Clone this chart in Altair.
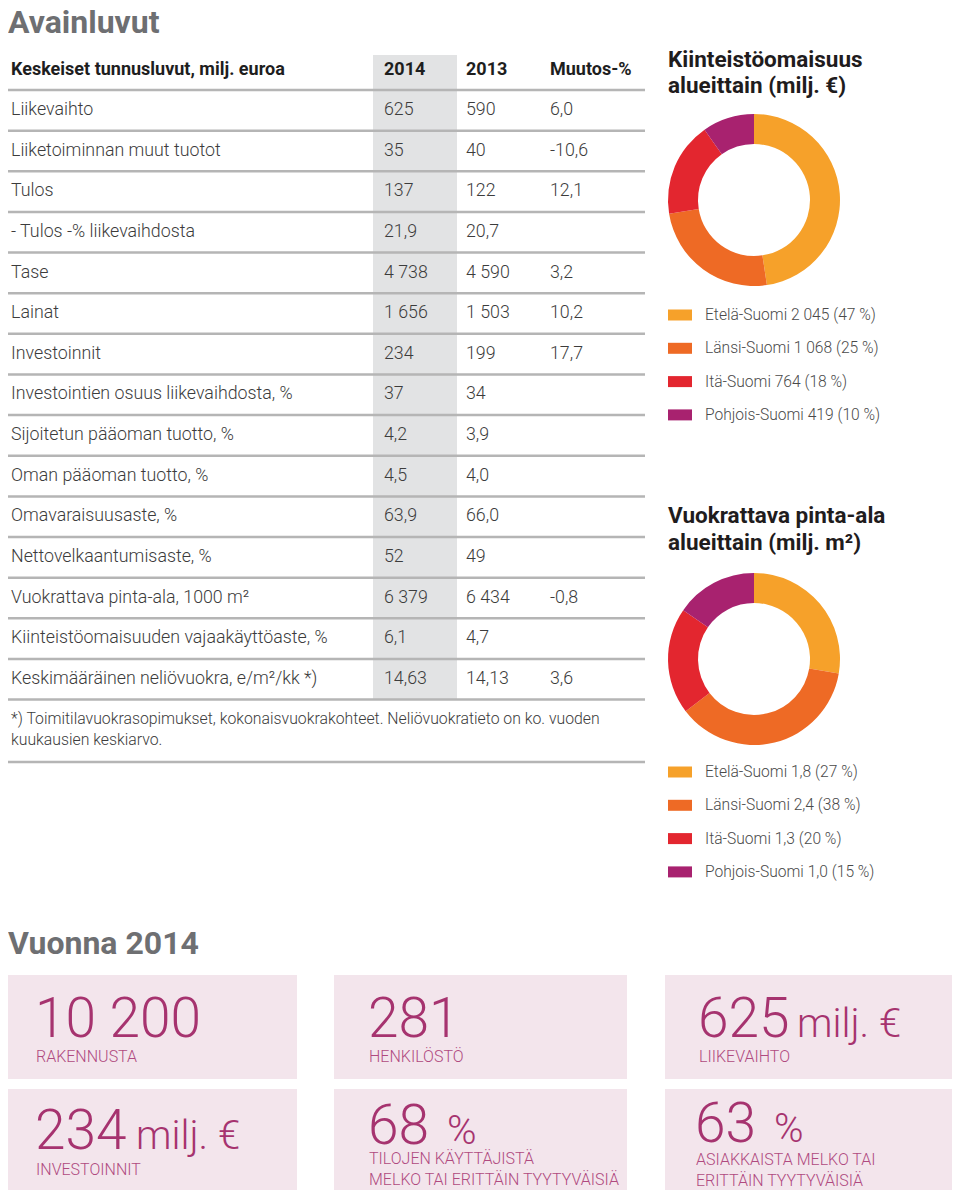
import altair as alt
import pandas as pd

# ---------------- data ----------------
row_labels = [
    "Liikevaihto",
    "Liiketoiminnan muut tuotot",
    "Tulos",
    " - Tulos -% liikevaihdosta",
    "Tase",
    "Lainat",
    "Investoinnit",
    "Investointien osuus liikevaihdosta, %",
    "Sijoitetun pääoman tuotto, %",
    "Oman pääoman tuotto, %",
    "Omavaraisuusaste, %",
    "Nettovelkaantumisaste, %",
    "Vuokrattava pinta-ala, 1000 m²",
    "Kiinteistöomaisuuden vajaakäyttöaste, %",
    "Keskimääräinen neliövuokra, e/m²/kk *)",
]
vals_2014 = ["625", "35", "137", "21,9", "4 738", "1 656", "234", "37", "4,2", "4,5",
             "63,9", "52", "6 379", "6,1", "14,63"]
vals_2013 = ["590", "40", "122", "20,7", "4 590", "1 503", "199", "34", "3,9", "4,0",
             "66,0", "49", "6 434", "4,7", "14,13"]
vals_change = ["6,0", "-10,6", "12,1", "", "3,2", "10,2", "17,7", "", "", "",
               "", "", "-0,8", "", "3,6"]
header_cols = ["Keskeiset tunnusluvut, milj. euroa", "2014", "2013", "Muutos-%"]
footnote = ["*) Toimitilavuokrasopimukset, kokonaisvuokrakohteet. Neliövuokratieto on ko. vuoden",
            "kuukausien keskiarvo."]

regions = ["Etelä-Suomi", "Länsi-Suomi", "Itä-Suomi", "Pohjois-Suomi"]
region_colors = ["#F6A12A", "#EE6A25", "#E3262F", "#A8226F"]
asset_values = [2045, 1068, 764, 419]
asset_pct = [47, 25, 18, 10]
asset_text = ["2 045", "1 068", "764", "419"]
area_values = [1.8, 2.4, 1.3, 1.0]
area_pct = [27, 38, 20, 15]
area_text = ["1,8", "2,4", "1,3", "1,0"]

kpi_numbers = ["10 200", "281", "625", "234", "68", "63"]
kpi_units = ["", "", "milj. €", "milj. €", "%", "%"]
kpi_labels = [["RAKENNUSTA"], ["HENKILÖSTÖ"], ["LIIKEVAIHTO"], ["INVESTOINNIT"],
              ["TILOJEN KÄYTTÄJISTÄ", "MELKO TAI ERITTÄIN TYYTYVÄISIÄ"],
              ["ASIAKKAISTA MELKO TAI", "ERITTÄIN TYYTYVÄISIÄ"]]

# ---------------- layout constants ----------------
FONT = "Roboto"
XS = alt.Scale(domain=[8, 952], nice=False, zero=False)
YS = alt.Scale(domain=[8, 1191], nice=False, zero=False, reverse=True)
CS = alt.Scale(domain=regions, range=region_colors)

ROW0 = 110.0
PITCH = 40.64
COLX = [11, 384, 466, 550]
TXT = "#3c3c3c"
KPI_COLOR = "#A6336F"
KPI_LABEL = "#B04A80"


def text_layer(df, size, weight=400, color=TXT, baseline="middle", align="left"):
    return alt.Chart(df).mark_text(
        align=align, baseline=baseline, fontSize=size, fontWeight=weight,
        color=color, font=FONT
    ).encode(
        x=alt.X("x:Q", scale=XS, axis=None),
        y=alt.Y("y:Q", scale=YS, axis=None),
        text="t:N",
    )


def rect_layer(df, color):
    return alt.Chart(df).mark_rect(color=color).encode(
        x=alt.X("x:Q", scale=XS, axis=None), x2="x2:Q",
        y=alt.Y("y:Q", scale=YS, axis=None), y2="y2:Q",
    )


layers = []

# gray band for 2014 column
band = pd.DataFrame({"x": [373], "x2": [457], "y": [55], "y2": [ROW0 - 20 + PITCH * 15]})
layers.append(rect_layer(band, "#E2E3E4"))

# KPI boxes
box_x = [(4, 297), (334, 627), (665, 958)]
box_y = [(975, 1079), (1089, 1190)]
boxes = []
for r, (y1, y2) in enumerate(box_y):
    for (x1, x2) in box_x:
        boxes.append({"x": x1, "x2": x2, "y": y1, "y2": y2})
layers.append(rect_layer(pd.DataFrame(boxes), "#F3E5EC"))

# table rules
rule_y = [ROW0 - 20 + PITCH * k for k in range(16)] + [762]
rules = pd.DataFrame({"y": rule_y, "x": [5] * len(rule_y), "x2": [645] * len(rule_y)})
layers.append(
    alt.Chart(rules).mark_rule(color="#B5B5B5", strokeWidth=2.5).encode(
        x=alt.X("x:Q", scale=XS, axis=None), x2="x2:Q",
        y=alt.Y("y:Q", scale=YS, axis=None),
    )
)

# titles
titles = pd.DataFrame({"x": [8, 8], "y": [23, 944], "t": ["Avainluvut", "Vuonna 2014"]})
layers.append(text_layer(titles, 32, 700, "#6E6F72"))

# table header
hdr = pd.DataFrame({"x": COLX, "y": [70] * 4, "t": header_cols})
layers.append(text_layer(hdr, 18, 700, "#1e1e1e"))

# table body
body = []
for i, lab in enumerate(row_labels):
    y = ROW0 + PITCH * i
    for x, t in zip(COLX, [lab, vals_2014[i], vals_2013[i], vals_change[i]]):
        if t:
            body.append({"x": x, "y": y, "t": t})
layers.append(text_layer(pd.DataFrame(body), 17.8, 300))

# footnote
fn = pd.DataFrame({"x": [11, 11], "y": [719, 740], "t": footnote})
layers.append(text_layer(fn, 15.8, 300))

# donut titles
dt = pd.DataFrame({
    "x": [668] * 4, "y": [60, 86, 516, 543],
    "t": ["Kiinteistöomaisuus", "alueittain (milj. €)", "Vuokrattava pinta-ala", "alueittain (milj. m²)"],
})
layers.append(text_layer(dt, 22.5, 700, "#1f1c1d"))

# legends
leg_rects, leg_text = [], []
for base_y, vtxt, pcts in [(315, asset_text, asset_pct), (772, area_text, area_pct)]:
    for i, reg in enumerate(regions):
        y = base_y + 33.3 * i
        leg_rects.append({"x": 668, "x2": 692, "y": y - 5.5, "y2": y + 5.5, "r": reg})
        leg_text.append({"x": 705, "y": y, "t": f"{reg} {vtxt[i]} ({pcts[i]} %)"})
layers.append(
    alt.Chart(pd.DataFrame(leg_rects)).mark_rect().encode(
        x=alt.X("x:Q", scale=XS, axis=None), x2="x2:Q",
        y=alt.Y("y:Q", scale=YS, axis=None), y2="y2:Q",
        color=alt.Color("r:N", scale=CS, legend=None),
    )
)
layers.append(text_layer(pd.DataFrame(leg_text), 15.6, 300, "#4a4a4a"))

# KPI texts
num_pos = [(35, 1037), (368, 1037), (698, 1037), (35, 1149), (368, 1144), (695, 1142)]
unit_x = [None, None, 797, 136, 447, 774]
lab_y = [[1062], [1062], [1062], [1175], [1164, 1185], [1165, 1186]]
nums, units, labs = [], [], []
for i, n in enumerate(kpi_numbers):
    x, y = num_pos[i]
    nums.append({"x": x, "y": y, "t": n})
    if kpi_units[i]:
        units.append({"x": unit_x[i], "y": y, "t": kpi_units[i]})
    for j, lt in enumerate(kpi_labels[i]):
        labs.append({"x": x + 1, "y": lab_y[i][j], "t": lt})
layers.append(text_layer(pd.DataFrame(nums), 55, 300, KPI_COLOR, baseline="alphabetic"))
layers.append(text_layer(pd.DataFrame(units), 40, 300, KPI_COLOR, baseline="alphabetic"))
layers.append(text_layer(pd.DataFrame(labs), 16, 300, KPI_LABEL, baseline="alphabetic"))

# donuts
d1 = pd.DataFrame({"r": regions, "v": asset_values, "i": range(4)})
d2 = pd.DataFrame({"r": regions, "v": area_values, "i": range(4)})
for df, cy in [(d1, 200), (d2, 659)]:
    layers.append(
        alt.Chart(df).mark_arc(innerRadius=56, outerRadius=86, strokeWidth=0).encode(
            theta=alt.Theta("v:Q", stack=True),
            color=alt.Color("r:N", scale=CS, legend=None),
            order=alt.Order("i:Q"),
            x=alt.value(754 - 8),
            y=alt.value(cy - 8),
        )
    )

chart = alt.layer(*layers).resolve_scale(theta="independent").properties(
    width=944, height=1183, padding=0,
    autosize=alt.AutoSizeParams(type="none"),
).configure_view(stroke=None)

chart.save("out.html", embed_options={"renderer": "svg", "actions": False})
